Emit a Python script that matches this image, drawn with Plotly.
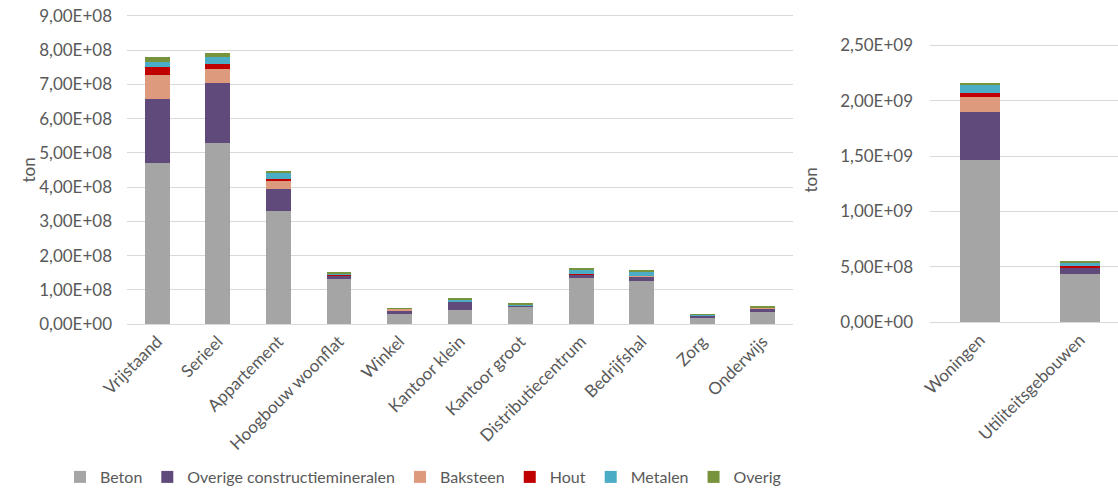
import plotly.graph_objects as go

# ---------------- data ----------------
categories_left = ["Vrijstaand", "Serieel", "Appartement", "Hoogbouw woonflat", "Winkel",
                   "Kantoor klein", "Kantoor groot", "Distributiecentrum", "Bedrijfshal",
                   "Zorg", "Onderwijs"]
beton_left = [4.70e8, 5.28e8, 3.31e8, 1.32e8, 0.28e8, 0.41e8, 0.51e8, 1.35e8, 1.26e8, 0.18e8, 0.34e8]
overige_left = [1.88e8, 1.75e8, 0.63e8, 0.09e8, 0.12e8, 0.24e8, 0.02e8, 0.10e8, 0.14e8, 0.07e8, 0.12e8]
baksteen_left = [0.70e8, 0.41e8, 0.24e8, 0.01e8, 0.04e8, 0.01e8, 0.005e8, 0.01e8, 0.01e8, 0.005e8, 0.01e8]
hout_left = [0.24e8, 0.15e8, 0.05e8, 0.005e8, 0.005e8, 0.005e8, 0.0, 0.005e8, 0.005e8, 0.0, 0.005e8]
metalen_left = [0.15e8, 0.22e8, 0.18e8, 0.06e8, 0.005e8, 0.05e8, 0.04e8, 0.13e8, 0.11e8, 0.02e8, 0.02e8]
overig_left = [0.13e8, 0.10e8, 0.07e8, 0.03e8, 0.01e8, 0.02e8, 0.02e8, 0.04e8, 0.04e8, 0.01e8, 0.02e8]

categories_right = ["Woningen", "Utiliteitsgebouwen"]
beton_right = [1.465e9, 0.436e9]
overige_right = [0.43e9, 0.057e9]
baksteen_right = [0.135e9, 0.004e9]
hout_right = [0.042e9, 0.012e9]
metalen_right = [0.067e9, 0.033e9]
overig_right = [0.024e9, 0.012e9]

series_names = ["Beton", "Overige constructiemineralen", "Baksteen", "Hout", "Metalen", "Overig"]
series_colors = ["#A5A5A5", "#604A7B", "#DE9A7C", "#C00000", "#4BACC6", "#77933C"]

left_tickvals = [0, 1e8, 2e8, 3e8, 4e8, 5e8, 6e8, 7e8, 8e8, 9e8]
left_ticktext = ["0,00E+00", "1,00E+08", "2,00E+08", "3,00E+08", "4,00E+08",
                 "5,00E+08", "6,00E+08", "7,00E+08", "8,00E+08", "9,00E+08"]
right_tickvals = [0, 5e8, 1e9, 1.5e9, 2e9, 2.5e9]
right_ticktext = ["0,00E+00", "5,00E+08", "1,00E+09", "1,50E+09", "2,00E+09", "2,50E+09"]

# ---------------- figure ----------------
W, H = 1118, 488
FONT = "Lato"
TXT = "#595959"
GRID = "#D9D9D9"

left_series = [beton_left, overige_left, baksteen_left, hout_left, metalen_left, overig_left]
right_series = [beton_right, overige_right, baksteen_right, hout_right, metalen_right, overig_right]

fig = go.Figure()
for name, color, vals in zip(series_names, series_colors, left_series):
    fig.add_trace(go.Bar(x=categories_left, y=vals, name=name, marker_color=color,
                         marker_line_width=0, width=0.41, xaxis="x", yaxis="y",
                         legendgroup=name, showlegend=True))
for name, color, vals in zip(series_names, series_colors, right_series):
    fig.add_trace(go.Bar(x=categories_right, y=vals, name=name, marker_color=color,
                         marker_line_width=0, width=0.40, xaxis="x2", yaxis="y2",
                         legendgroup=name, showlegend=False))

def px_x(p):
    return p / W

def px_y(p):
    return (H - p) / H

axis_font = dict(family=FONT, size=17, color=TXT)
cat_font = dict(family=FONT, size=17, color=TXT)

# pixels per unit on the value axes: left 0 at y=324, 9e8 at y=16; right 0 at 322.3, 2.5e9 at 45.3
LPX = (324 - 16) / 9e8
left_top = 9.06e8
RPX = (322.3 - 45.3) / 2.5e9
right_top = 2.52e9

fig.update_layout(
    width=W, height=H,
    margin=dict(l=0, r=0, t=0, b=0, autoexpand=False),
    paper_bgcolor="white", plot_bgcolor="white",
    barmode="stack",
    font=dict(family=FONT, size=16, color=TXT),
    xaxis=dict(domain=[px_x(127), px_x(793)], range=[-0.5, 10.5], anchor="y",
               tickangle=-45, tickfont=cat_font, automargin=False,
               showgrid=False, showline=True, linecolor=GRID, linewidth=1,
               ticks="", ticklabeloverflow="allow"),
    yaxis=dict(domain=[px_y(324), px_y(324 - left_top * LPX)], range=[0, left_top], anchor="x",
               tickvals=left_tickvals, ticktext=left_ticktext, tickfont=axis_font,
               showgrid=True, gridcolor=GRID, gridwidth=1, zeroline=False, automargin=False,
               showline=False, ticks="", ticklabelstandoff=14, ticklabeloverflow="allow"),
    xaxis2=dict(domain=[px_x(930), 1.0], range=[-0.5, 1.38], anchor="y2",
                tickangle=-45, tickfont=cat_font, automargin=False,
                showgrid=False, showline=True, linecolor=GRID, linewidth=1,
                ticks="", ticklabeloverflow="allow"),
    yaxis2=dict(domain=[px_y(322.3), px_y(322.3 - right_top * RPX)], range=[0, right_top], anchor="x2",
                tickvals=right_tickvals, ticktext=right_ticktext, tickfont=axis_font,
                showgrid=True, gridcolor=GRID, gridwidth=1, zeroline=False, automargin=False,
                showline=False, ticks="", ticklabelstandoff=16, ticklabeloverflow="allow"),
    legend=dict(orientation="h", x=px_x(423), xanchor="center", y=px_y(477), yanchor="middle",
                font=dict(family=FONT, size=16, color=TXT), traceorder="normal",
                itemwidth=30, bgcolor="rgba(0,0,0,0)"),
    showlegend=True,
    annotations=[
        dict(text="ton", x=px_x(15), y=px_y(170), xref="paper", yref="paper",
             showarrow=False, textangle=-90, font=dict(family=FONT, size=17, color=TXT)),
        dict(text="ton", x=px_x(823), y=px_y(180), xref="paper", yref="paper",
             showarrow=False, textangle=-90, font=dict(family=FONT, size=17, color=TXT)),
    ],
)

fig.write_html("out.html", config={"displayModeBar": False},
               post_script="document.body.style.margin='0';document.body.style.overflow='hidden';")
